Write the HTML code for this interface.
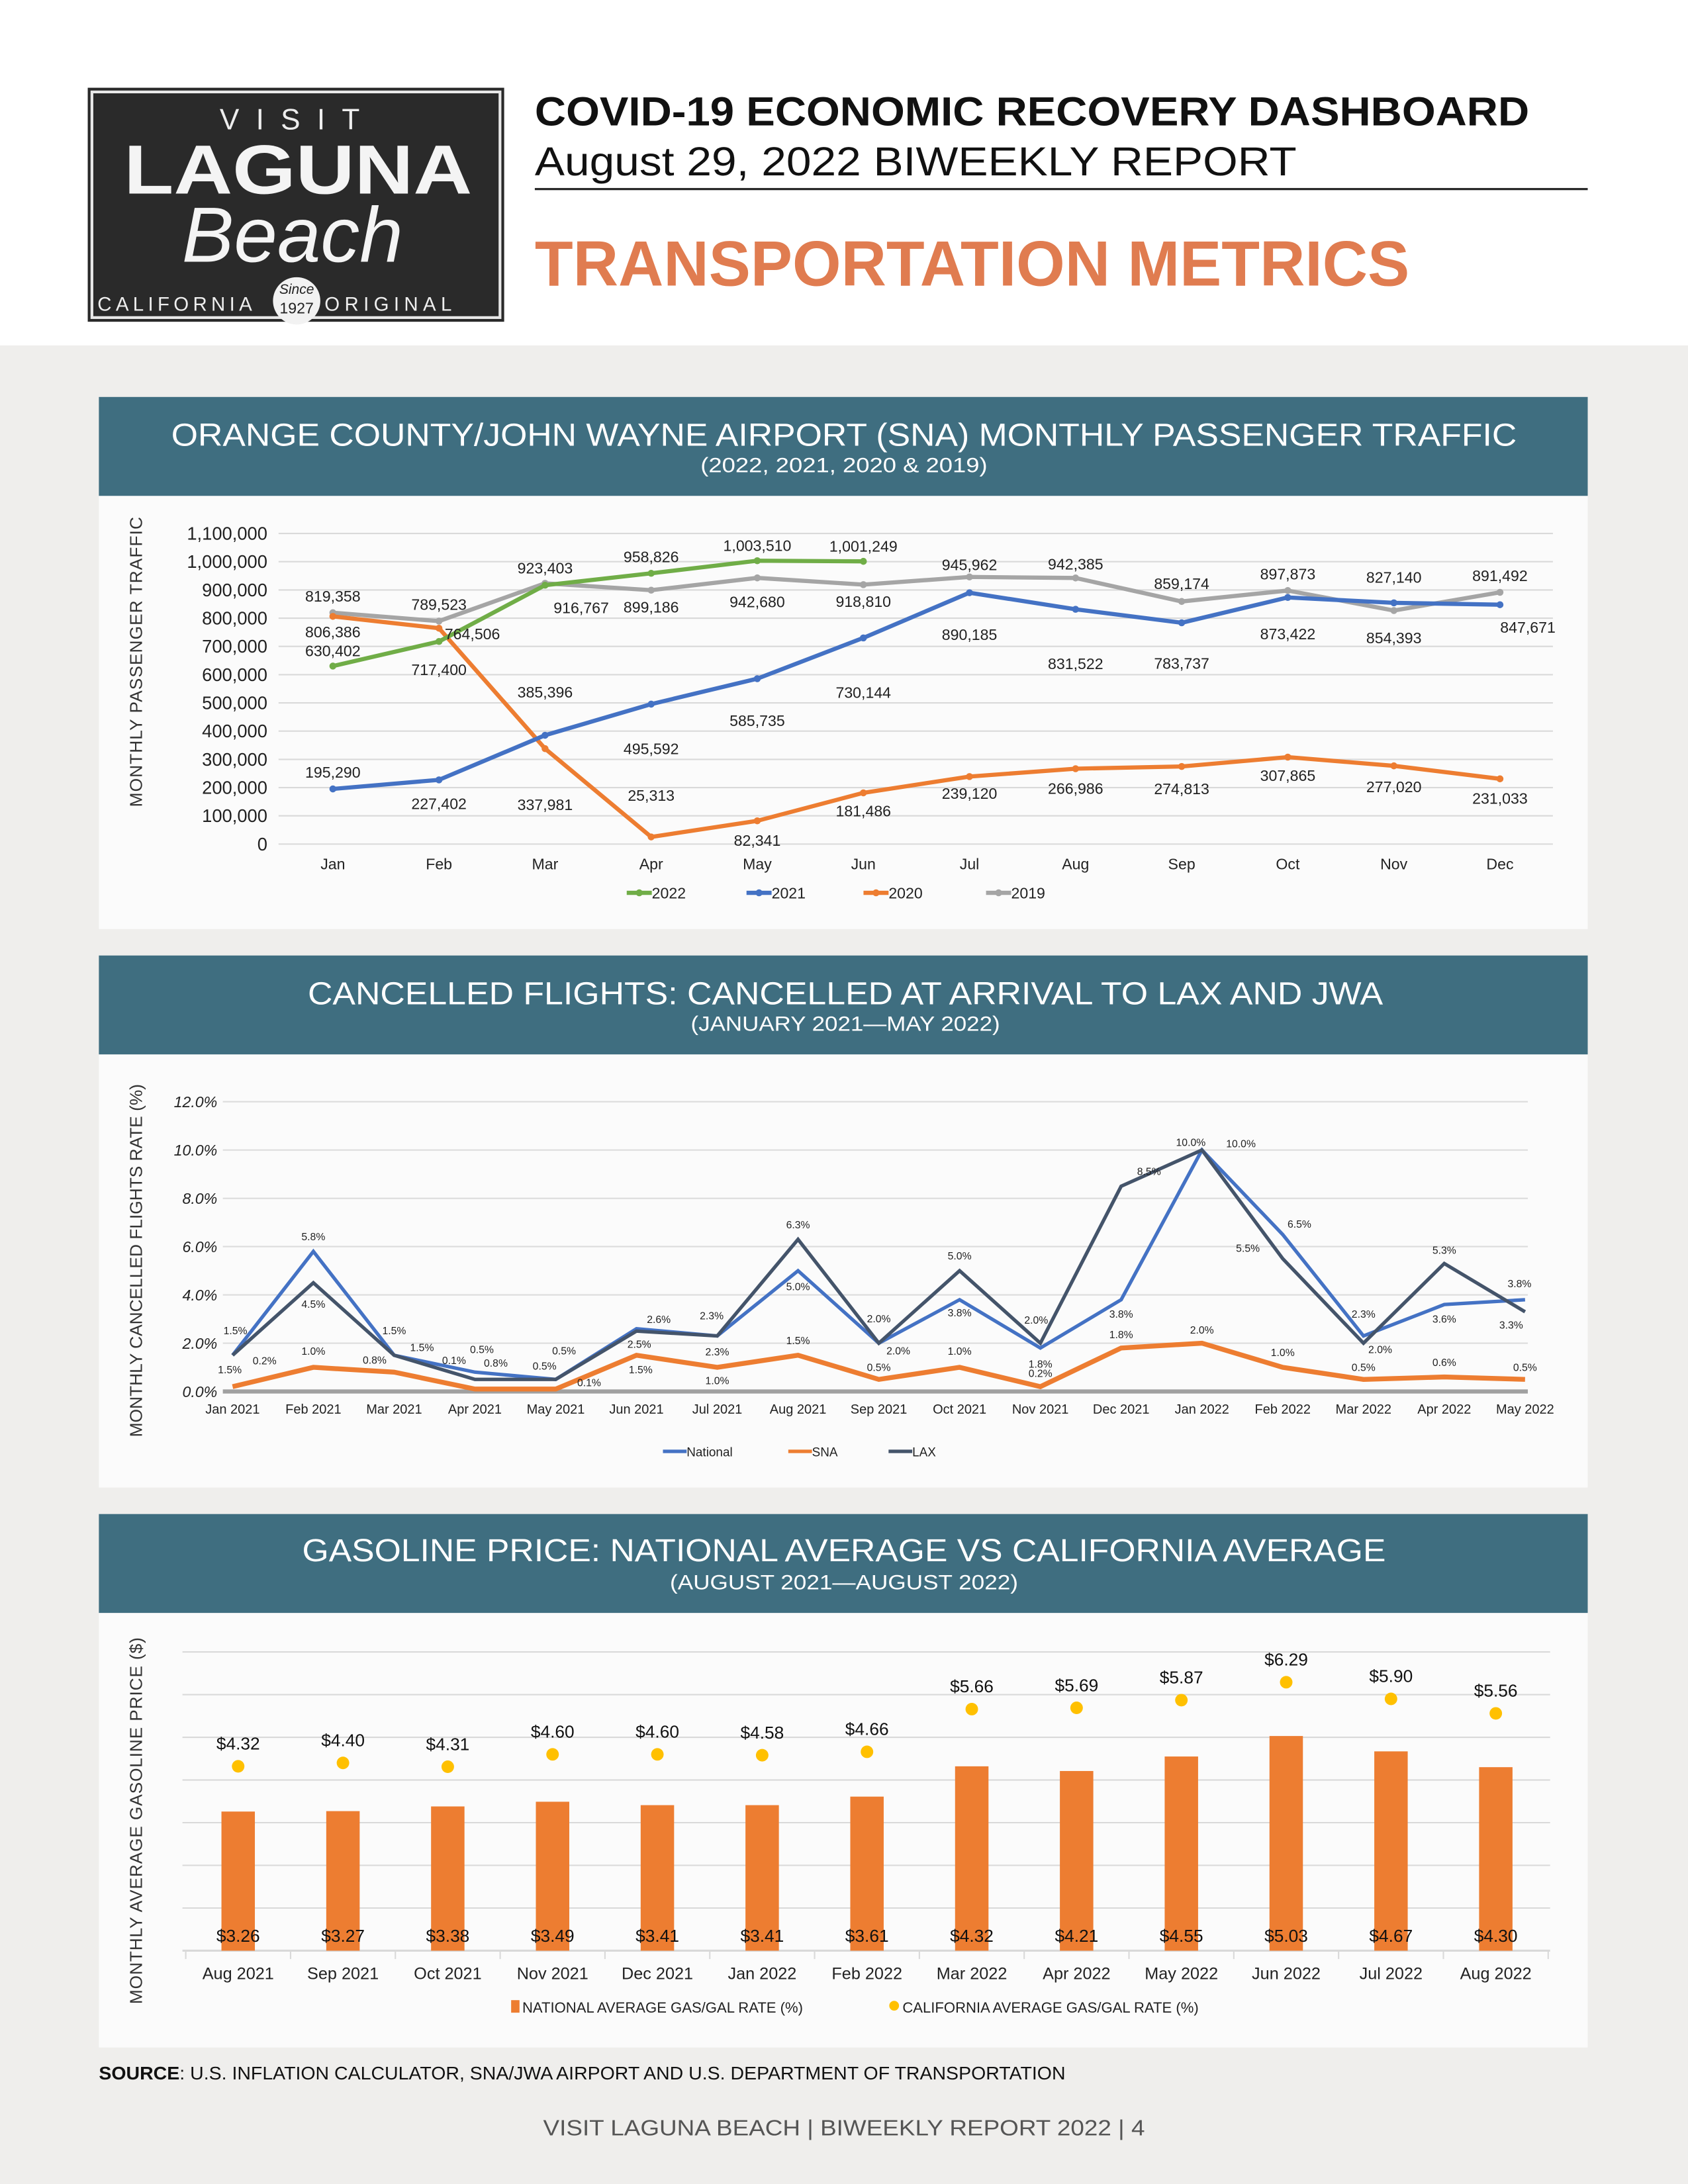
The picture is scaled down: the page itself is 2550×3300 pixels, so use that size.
<!DOCTYPE html>
<html><head><meta charset="utf-8"><title>Transportation Metrics</title>
<style>
html,body{margin:0;padding:0;background:#fff;}
svg{display:block;}
text{font-family:"Liberation Sans",sans-serif;}
</style></head>
<body>
<svg id="page" xmlns="http://www.w3.org/2000/svg" width="2550" height="3300" viewBox="0 0 1212 1568" preserveAspectRatio="none">
  <rect x="0" y="0" width="1212" height="1568" fill="#ffffff"/>
  <rect x="0" y="248" width="1212" height="1320" fill="#efeeec"/>

  <g>
    <rect x="63" y="63" width="299" height="168" fill="#2a2a2a"/>
    <rect x="66" y="66" width="293" height="162" fill="none" stroke="#e8e8e8" stroke-width="2"/>
    <text x="214" y="93" font-size="21" fill="#eee" text-anchor="middle" letter-spacing="12">VISIT</text>
    <text x="214" y="139" font-size="50" font-weight="bold" fill="#f4f4f4" text-anchor="middle" textLength="250" lengthAdjust="spacingAndGlyphs">LAGUNA</text>
    <text x="210" y="188" font-size="56" font-style="italic" fill="#f4f4f4" text-anchor="middle" font-family="Liberation Serif, serif">Beach</text>
    <text x="70" y="223" font-size="14" fill="#eee" letter-spacing="3">CALIFORNIA</text>
    <text x="233" y="223" font-size="14" fill="#eee" letter-spacing="3.5">ORIGINAL</text>
    <circle cx="213" cy="216" r="17" fill="#f2f2f2"/>
    <text x="213" y="211" font-size="10" font-style="italic" fill="#222" text-anchor="middle" font-family="Liberation Serif, serif">Since</text>
    <text x="213" y="225" font-size="11" fill="#222" text-anchor="middle">1927</text>
  </g>

  <text x="384" y="90" font-size="29" font-weight="bold" fill="#111" textLength="714" lengthAdjust="spacingAndGlyphs">COVID-19 ECONOMIC RECOVERY DASHBOARD</text>
  <text x="384" y="126" font-size="29" fill="#111" textLength="547" lengthAdjust="spacingAndGlyphs">August 29, 2022 BIWEEKLY REPORT</text>
  <rect x="384" y="135" width="756" height="1.5" fill="#222"/>
  <text x="384" y="205" font-size="46" font-weight="bold" fill="#e07c50" textLength="628" lengthAdjust="spacingAndGlyphs">TRANSPORTATION METRICS</text>

  <!-- panel 1 -->
  <rect x="71" y="356" width="1069" height="311" fill="#fbfbfb"/>
  <rect x="71" y="285" width="1069" height="71" fill="#3f6e80"/>
  <text x="606" y="320" font-size="23" fill="#fff" text-anchor="middle" textLength="966" lengthAdjust="spacingAndGlyphs">ORANGE COUNTY/JOHN WAYNE AIRPORT (SNA) MONTHLY PASSENGER TRAFFIC</text>
  <text x="606" y="339" font-size="15" fill="#fff" text-anchor="middle" textLength="206" lengthAdjust="spacingAndGlyphs">(2022, 2021, 2020 &amp; 2019)</text>
  <g id="chart1"></g>

  <!-- panel 2 -->
  <rect x="71" y="757" width="1069" height="311" fill="#fbfbfb"/>
  <rect x="71" y="686" width="1069" height="71" fill="#3f6e80"/>
  <text x="607" y="721" font-size="23" fill="#fff" text-anchor="middle" textLength="772" lengthAdjust="spacingAndGlyphs">CANCELLED FLIGHTS: CANCELLED AT ARRIVAL TO LAX AND JWA</text>
  <text x="607" y="740" font-size="15" fill="#fff" text-anchor="middle" textLength="222" lengthAdjust="spacingAndGlyphs">(JANUARY 2021—MAY 2022)</text>
  <g id="chart2"></g>

  <!-- panel 3 -->
  <rect x="71" y="1158" width="1069" height="312" fill="#fbfbfb"/>
  <rect x="71" y="1087" width="1069" height="71" fill="#3f6e80"/>
  <text x="606" y="1121" font-size="23" fill="#fff" text-anchor="middle" textLength="778" lengthAdjust="spacingAndGlyphs">GASOLINE PRICE: NATIONAL AVERAGE VS CALIFORNIA AVERAGE</text>
  <text x="606" y="1141" font-size="15" fill="#fff" text-anchor="middle" textLength="250" lengthAdjust="spacingAndGlyphs">(AUGUST 2021—AUGUST 2022)</text>
  <g id="chart3"></g>

  <text x="71" y="1493" font-size="13" fill="#111" textLength="694" lengthAdjust="spacingAndGlyphs"><tspan font-weight="bold">SOURCE</tspan>: U.S. INFLATION CALCULATOR, SNA/JWA AIRPORT AND U.S. DEPARTMENT OF TRANSPORTATION</text>
  <text x="606" y="1533" font-size="16" fill="#555" text-anchor="middle" textLength="432" lengthAdjust="spacingAndGlyphs">VISIT LAGUNA BEACH  |  BIWEEKLY REPORT 2022  |  4</text>
</svg>

<script>
// ---------- Chart 1 data ----------
const months1 = ["Jan","Feb","Mar","Apr","May","Jun","Jul","Aug","Sep","Oct","Nov","Dec"];
const yTicks1 = [0,100000,200000,300000,400000,500000,600000,700000,800000,900000,1000000,1100000];
const pax2022 = [630402,717400,916767,958826,1003510,1001249];
const pax2021 = [195290,227402,385396,495592,585735,730144,890185,831522,783737,873422,854393,847671];
const pax2020 = [806386,764506,337981,25313,82341,181486,239120,266986,274813,307865,277020,231033];
const pax2019 = [819358,789523,923403,899186,942680,918810,945962,942385,859174,897873,827140,891492];

// ---------- Chart 2 data ----------
const months2 = ["Jan 2021","Feb 2021","Mar 2021","Apr 2021","May 2021","Jun 2021","Jul 2021","Aug 2021","Sep 2021","Oct 2021","Nov 2021","Dec 2021","Jan 2022","Feb 2022","Mar 2022","Apr 2022","May 2022"];
const yTicks2 = [0,2,4,6,8,10,12];
const rateNational = [1.5,5.8,1.5,0.8,0.5,2.6,2.3,5.0,2.0,3.8,1.8,3.8,10.0,6.5,2.3,3.6,3.8];
const rateSNA = [0.2,1.0,0.8,0.1,0.1,1.5,1.0,1.5,0.5,1.0,0.2,1.8,2.0,1.0,0.5,0.6,0.5];
const rateLAX = [1.5,4.5,1.5,0.5,0.5,2.5,2.3,6.3,2.0,5.0,2.0,8.5,10.0,5.5,2.0,5.3,3.3];

// ---------- Chart 3 data ----------
const months3 = ["Aug 2021","Sep 2021","Oct 2021","Nov 2021","Dec 2021","Jan 2022","Feb 2022","Mar 2022","Apr 2022","May 2022","Jun 2022","Jul 2022","Aug 2022"];
const yTicks3 = [0,1,2,3,4,5,6,7];
const gasNational = [3.26,3.27,3.38,3.49,3.41,3.41,3.61,4.32,4.21,4.55,5.03,4.67,4.30];
const gasCalifornia = [4.32,4.40,4.31,4.60,4.60,4.58,4.66,5.66,5.69,5.87,6.29,5.90,5.56];

const NS = "http://www.w3.org/2000/svg";
function mk(parent, tag, attrs, txt){
  const e = document.createElementNS(NS, tag);
  for (const k in attrs) e.setAttribute(k, attrs[k]);
  if (txt !== undefined) e.textContent = txt;
  parent.appendChild(e);
  return e;
}
function fmt(n){ return n.toLocaleString("en-US"); }

// ================= Chart 1 =================
(function(){
  const g = document.getElementById("chart1");
  const x0 = 239, xStep = (1077-239)/11, yBase = 606, yTop = 383, yMax = 1100000;
  const X = i => x0 + i*xStep;
  const Y = v => yBase - v/yMax*(yBase-yTop);
  yTicks1.forEach(t => {
    const l = mk(g,"line",{x1:200,x2:1115,y1:Y(t),y2:Y(t),stroke:"#d9d9d9","stroke-width":1});
    
    
    const tx = mk(g,"text",{x:192,y:Y(t)+4.5,"font-size":13,"text-anchor":"end",fill:"#222"},fmt(t));
    
    
  });
  months1.forEach((m,i) => {
    const tx = mk(g,"text",{x:X(i),y:624,"font-size":11,"text-anchor":"middle",fill:"#222"},m);
    
    
  });
  const yt = mk(g,"text",{x:0,y:0,"font-size":12.5,"text-anchor":"middle",fill:"#333",transform:"translate(102,475) rotate(-90)","letter-spacing":"0.5"},"MONTHLY PASSENGER TRAFFIC");
  
  

  const series = [
    {vals:pax2019,color:"#a5a5a5",name:"2019",dx:[0,0,0,0,0,0,0,0,0,0,0,0],dy:[-12,-12,-11,12,17,12,-9,-10,-13,-12,-24,-12]},
    {vals:pax2020,color:"#ed7d31",name:"2020",dx:[0,24,0,0,0,0,0,0,0,0,0,0],dy:[11,4,40,-30,14,13,12,14,16,13,15,14]},
    {vals:pax2021,color:"#4472c4",name:"2021",dx:[0,0,0,0,0,0,0,0,0,0,0,20],dy:[-12,17,-31,32,30,39,30,39,29,26,25,16]},
    {vals:pax2022,color:"#70ad47",name:"2022",dx:[0,0,26,0,0,0],dy:[-11,20,16,-12,-11,-11]}
  ];
  series.forEach(s => {
    const pts = s.vals.map((v,i)=>X(i)+","+Y(v)).join(" ");
    const pl = mk(g,"polyline",{points:pts,fill:"none",stroke:s.color,"stroke-width":3,"stroke-linejoin":"round"});
    
    
    s.vals.forEach((v,i) => {
      const c = mk(g,"circle",{cx:X(i),cy:Y(v),r:2.5,fill:s.color});
      
      
    });
  });
  series.forEach(s => {
    s.vals.forEach((v,i) => {
      const t = mk(g,"text",{x:X(i)+s.dx[i],y:Y(v)+s.dy[i]+4,"font-size":11,"text-anchor":"middle",fill:"#222"},fmt(v));
      
      
    });
  });
  const legend = [["2022","#70ad47",450],["2021","#4472c4",536],["2020","#ed7d31",620],["2019","#a5a5a5",708]];
  legend.forEach(l => {
    const ln = mk(g,"line",{x1:l[2],x2:l[2]+18,y1:641,y2:641,stroke:l[1],"stroke-width":3});
    
    
    mk(g,"circle",{cx:l[2]+9,cy:641,r:2.5,fill:l[1]});
    const t = mk(g,"text",{x:l[2]+18,y:645,"font-size":11,fill:"#222"},l[0]);
    
    
  });
})();

// ================= Chart 2 =================
(function(){
  const g = document.getElementById("chart2");
  const x0 = 167, xStep = (1095-167)/16, yBase = 999, yTop = 791, yMax = 12;
  const X = i => x0 + i*xStep;
  const Y = v => yBase - v/yMax*(yBase-yTop);
  yTicks2.forEach(t => {
    const l = mk(g,"line",{x1:160,x2:1097,y1:Y(t),y2:Y(t),stroke:t===0?"#a0a0a0":"#dcdcdc","stroke-width":t===0?3:1});
    
    
    const tx = mk(g,"text",{x:156,y:Y(t)+4,"font-size":11,"text-anchor":"end","font-style":"italic",fill:"#222"},t.toFixed(1)+"%");
    
    
  });
  months2.forEach((m,i) => {
    const tx = mk(g,"text",{x:X(i),y:1015,"font-size":9.5,"text-anchor":"middle",fill:"#222"},m);
    
    
  });
  const yt = mk(g,"text",{x:0,y:0,"font-size":12.5,"text-anchor":"middle",fill:"#333",transform:"translate(102,905) rotate(-90)"},"MONTHLY CANCELLED FLIGHTS RATE (%)");
  
  

  const series = [
    {vals:rateSNA,color:"#ed7d31",name:"sna",w:3.5,
      dx:[23,0,-14,-15,24,3,0,0,0,0,0,0,0,0,0,0,0],dy:[-19,-12,-9,-21,-5,10,9,-11,-9,-12,-10,-10,-10,-11,-9,-11,-9]},
    {vals:rateNational,color:"#4472c4",name:"national",w:2.5,
      dx:[2,0,0,15,6,16,-4,0,0,0,0,0,-8,12,0,0,-4],dy:[-18,-11,-18,-7,-21,-7,-15,11,-18,9,11,10,-6,-8,-16,10,-12]},
    {vals:rateLAX,color:"#44546a",name:"lax",w:2.5,
      dx:[-2,0,20,5,-8,2,0,0,14,0,-3,20,28,-25,12,0,-10],dy:[10,15,-6,-22,-10,9,11,-11,5,-11,-17,-11,-5,-8,4,-10,9]}
  ];
  series.forEach(s => {
    const pts = s.vals.map((v,i)=>X(i)+","+Y(v)).join(" ");
    const pl = mk(g,"polyline",{points:pts,fill:"none",stroke:s.color,"stroke-width":s.w,"stroke-linejoin":"miter"});
    
    
  });
  series.forEach(s => {
    s.vals.forEach((v,i) => {
      const t = mk(g,"text",{x:X(i)+s.dx[i],y:Y(v)+s.dy[i]+3,"font-size":7.5,"text-anchor":"middle",fill:"#222"},v.toFixed(1)+"%");
      
      
    });
  });
  const legend = [["National","#4472c4",476],["SNA","#ed7d31",566],["LAX","#44546a",638]];
  legend.forEach(l => {
    const ln = mk(g,"line",{x1:l[2],x2:l[2]+17,y1:1042,y2:1042,stroke:l[1],"stroke-width":2.5});
    
    
    const t = mk(g,"text",{x:l[2]+17,y:1045.5,"font-size":9,fill:"#222"},l[0]);
    
    
  });
})();

// ================= Chart 3 =================
(function(){
  const g = document.getElementById("chart3");
  const x0 = 171, xStep = (1074-171)/12, yBase = 1400.5, yMax = 7, yTop = 1186;
  const X = i => x0 + i*xStep;
  const Y = v => yBase - v/yMax*(yBase-yTop);
  yTicks3.forEach(t => {
    const l = mk(g,"line",{x1:131,x2:1113,y1:Y(t),y2:Y(t),stroke:"#d9d9d9","stroke-width":t===0?1.5:1});
    
    
  });
  for (let i=0;i<=months3.length;i++){
    const tk = mk(g,"line",{x1:x0-xStep/2+i*xStep,x2:x0-xStep/2+i*xStep,y1:yBase,y2:yBase+6,stroke:"#d9d9d9","stroke-width":1});
    
    
  }
  months3.forEach((m,i) => {
    const tx = mk(g,"text",{x:X(i),y:1421,"font-size":12,"text-anchor":"middle",fill:"#222"},m);
    
    
  });
  const yt = mk(g,"text",{x:0,y:0,"font-size":12.5,"text-anchor":"middle",fill:"#333",transform:"translate(102,1307) rotate(-90)","letter-spacing":"0.4"},"MONTHLY AVERAGE  GASOLINE PRICE ($)");
  
  
  gasNational.forEach((v,i) => {
    const b = mk(g,"rect",{x:X(i)-12,y:Y(v),width:24,height:yBase-Y(v),fill:"#ed7d31"});
    
    
    const t = mk(g,"text",{x:X(i),y:1394,"font-size":12.5,"text-anchor":"middle",fill:"#111"},"$"+v.toFixed(2));
    
    
  });
  gasCalifornia.forEach((v,i) => {
    const c = mk(g,"circle",{cx:X(i),cy:Y(v),r:4.5,fill:"#ffc000"});
    
    
    const t = mk(g,"text",{x:X(i),y:Y(v)-12,"font-size":12.5,"text-anchor":"middle",fill:"#111"},"$"+v.toFixed(2));
    
    
  });
  const s1 = mk(g,"rect",{x:367,y:1436,width:6,height:9,fill:"#ed7d31"});
  
  
  const l1 = mk(g,"text",{x:375,y:1445,"font-size":10.5,fill:"#222"},"NATIONAL AVERAGE GAS/GAL RATE (%)");
  
  
  const s2 = mk(g,"circle",{cx:642,cy:1440,r:3.5,fill:"#ffc000"});
  
  
  const l2 = mk(g,"text",{x:648,y:1445,"font-size":10.5,fill:"#222"},"CALIFORNIA AVERAGE GAS/GAL RATE (%)");
  
  
})();
</script>
</body></html>
